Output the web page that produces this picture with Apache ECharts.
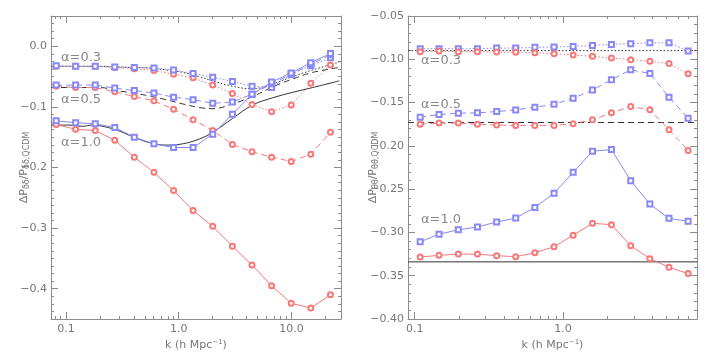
<!DOCTYPE html>
<html>
<head>
<meta charset="utf-8">
<script src="https://cdn.jsdelivr.net/npm/echarts@6/dist/echarts.min.js"></script>
<style>
  html, body { margin: 0; padding: 0; background: #fff; }
  #chart { width: 713px; height: 356px; }
</style>
</head>
<body>
<div id="chart"></div>
<script>
// ---- left panel: delta-delta ----
const kLeft = [0.082, 0.122, 0.182, 0.271, 0.404, 0.603, 0.900, 1.34, 2.00, 2.99, 4.46, 6.65, 9.92, 14.8, 22.1]
const redDotL = [-0.033, -0.033, -0.033, -0.035, -0.037, -0.040, -0.046, -0.052, -0.064, -0.078, -0.096, -0.108, -0.097, -0.061, -0.031]
const blueDotL = [-0.032, -0.033, -0.033, -0.034, -0.035, -0.036, -0.039, -0.045, -0.051, -0.058, -0.066, -0.068, -0.046, -0.032, -0.019]
const redDashL = [-0.066, -0.068, -0.068, -0.075, -0.083, -0.090, -0.104, -0.121, -0.139, -0.162, -0.174, -0.183, -0.190, -0.178, -0.142]
const blueDashL = [-0.064, -0.064, -0.064, -0.069, -0.073, -0.077, -0.084, -0.088, -0.094, -0.092, -0.079, -0.062, -0.046, -0.030, -0.014]
const redSolidL = [-0.129, -0.137, -0.139, -0.155, -0.183, -0.208, -0.238, -0.271, -0.297, -0.330, -0.361, -0.395, -0.424, -0.432, -0.410]
const blueSolidL = [-0.123, -0.126, -0.128, -0.134, -0.150, -0.161, -0.167, -0.167, -0.145, -0.112, -0.079, -0.059, -0.044, -0.027, -0.012]

// smooth reference curves (black)
const kCurve = [0.074, 0.107, 0.14, 0.172, 0.2, 0.28, 0.39, 0.55, 0.77, 1.08, 1.52, 2.0, 3.0, 4.5, 6.8, 10.2, 15.4, 26.5]
const curve03 = [-0.033, -0.033, -0.033, -0.033, -0.033, -0.034, -0.035, -0.036, -0.039, -0.043, -0.050, -0.057, -0.066, -0.070, -0.062, -0.050, -0.039, -0.026]
const curve05 = [-0.068, -0.068, -0.068, -0.068, -0.068, -0.073, -0.077, -0.082, -0.088, -0.095, -0.101, -0.103, -0.095, -0.083, -0.067, -0.054, -0.043, -0.035]
const curve10 = [-0.130, -0.130, -0.132, -0.130, -0.131, -0.138, -0.149, -0.159, -0.163, -0.161, -0.153, -0.142, -0.119, -0.097, -0.085, -0.076, -0.068, -0.057]

// ---- right panel: theta-theta ----
const kRight = [0.109, 0.146, 0.197, 0.265, 0.357, 0.480, 0.646, 0.870, 1.17, 1.58, 2.12, 2.86, 3.85, 5.18, 6.97]
const blueDotR = [-0.0878, -0.0878, -0.0878, -0.0878, -0.0870, -0.0870, -0.0862, -0.0858, -0.0851, -0.0840, -0.0828, -0.0820, -0.0809, -0.0809, -0.0905]
const redDotR = [-0.0912, -0.0905, -0.0912, -0.0912, -0.0916, -0.0920, -0.0924, -0.0935, -0.0950, -0.0966, -0.0985, -0.1004, -0.1023, -0.1050, -0.1168]
const blueDashR = [-0.1669, -0.1638, -0.1623, -0.1619, -0.1604, -0.1585, -0.1554, -0.1520, -0.1451, -0.1355, -0.1237, -0.1122, -0.1164, -0.1439, -0.1680]
const redDashR = [-0.1749, -0.1737, -0.1737, -0.1749, -0.1760, -0.1764, -0.1764, -0.1764, -0.1745, -0.1699, -0.1619, -0.1546, -0.1584, -0.1814, -0.2054]
const blueSolidR = [-0.3109, -0.3020, -0.2970, -0.2937, -0.2880, -0.2834, -0.2711, -0.2547, -0.2306, -0.2062, -0.2043, -0.2402, -0.2673, -0.2837, -0.2872]
const redSolidR = [-0.3284, -0.3265, -0.3250, -0.3250, -0.3269, -0.3280, -0.3235, -0.3166, -0.3032, -0.2895, -0.2910, -0.3154, -0.3303, -0.3403, -0.3475]
const flatR = [-0.090, -0.173, -0.334]   // dotted, dashed, solid

// axis ranges / ticks
const xRangeL = [0.0738, 27.4]
const xRangeR = [0.0902, 8.0]
const yRangeL = [-0.45, 0.05]
const yRangeR = [-0.40, -0.05]
const xMajor = [0.1, 1, 10]
const xMinor = [0.08, 0.09, 0.2, 0.3, 0.4, 0.5, 0.6, 0.7, 0.8, 0.9, 2, 3, 4, 5, 6, 7, 8, 9, 20]
const yMajorL = [-0.4, -0.3, -0.2, -0.1, 0.0]
const yMajorR = [-0.40, -0.35, -0.30, -0.25, -0.20, -0.15, -0.10, -0.05]

const RED = '#f87878'
const BLUE = '#8888f6'
const DARK = '#333'
const AXIS = '#8c8c8c'
const TEXT = '#777'
const FONT = 'DejaVu Sans'

const lg = v => Math.log10(v)
const pairs = (k, v) => k.map((x, i) => [lg(x), v[i]])

function within(vals, lo, hi) {
  return vals.filter(v => v >= lo - 1e-9 && v <= hi + 1e-9)
}

const frameLine = { show: true, onZero: false, lineStyle: { color: AXIS, width: 1 } }
const noLine = { show: false, onZero: false }

function xAxes(grid, range) {
  const lo = lg(range[0]), hi = lg(range[1])
  const major = within(xMajor.map(lg), lo, hi)
  const minor = within(xMinor.map(lg), lo, hi)
  const base = {
    gridIndex: grid, type: 'value', min: lo, max: hi,
    splitLine: { show: false }
  }
  const majTick = { show: true, inside: true, length: 7, customValues: major, lineStyle: { color: AXIS } }
  const minTick = { show: true, inside: true, length: 3, customValues: minor, lineStyle: { color: AXIS } }
  return [
    Object.assign({}, base, {
      position: 'bottom',
      axisLine: frameLine,
      axisTick: majTick,
      axisLabel: {
        show: true, customValues: major, margin: 5, color: TEXT, fontSize: 11, fontFamily: FONT,
        formatter: v => ({ '-1': '0.1', '0': '1.0', '1': '10.0' })[Math.round(v)]
      },
      name: 'k (h Mpc{sup|\u22121})', nameLocation: 'middle', nameGap: 20, nameMoveOverlap: false,
      nameTextStyle: {
        color: TEXT, fontSize: 11, fontFamily: FONT,
        rich: { sup: { fontSize: 7, verticalAlign: 'top', color: TEXT, fontFamily: FONT, padding: [0, 0, 6, 0] } }
      }
    }),
    Object.assign({}, base, { position: 'bottom', axisLine: noLine, axisTick: minTick, axisLabel: { show: false } }),
    Object.assign({}, base, { position: 'top', axisLine: frameLine, axisTick: majTick, axisLabel: { show: false } }),
    Object.assign({}, base, { position: 'top', axisLine: noLine, axisTick: minTick, axisLabel: { show: false } })
  ]
}

function yAxes(grid, range, major, step, digits, title, gap) {
  const minor = []
  for (let v = range[0]; v <= range[1] + 1e-9; v += step) minor.push(+v.toFixed(5))
  const base = {
    gridIndex: grid, type: 'value', min: range[0], max: range[1],
    splitLine: { show: false }
  }
  const majTick = { show: true, inside: true, length: 7, customValues: major, lineStyle: { color: AXIS } }
  const minTick = { show: true, inside: true, length: 3, customValues: minor, lineStyle: { color: AXIS } }
  return [
    Object.assign({}, base, {
      position: 'left',
      axisLine: frameLine,
      axisTick: majTick,
      axisLabel: {
        show: true, customValues: major, margin: 4, color: TEXT, fontSize: 11, fontFamily: FONT,
        formatter: v => v.toFixed(digits).replace('-', '\u2212')
      },
      name: title, nameLocation: 'middle', nameGap: gap, nameRotate: 90, nameMoveOverlap: false,
      nameTextStyle: {
        color: TEXT, fontSize: 11, fontFamily: FONT,
        rich: { sub: { fontSize: 8, color: TEXT, fontFamily: FONT, verticalAlign: 'bottom', padding: [5, 0, 0, 0] } }
      }
    }),
    Object.assign({}, base, { position: 'left', axisLine: noLine, axisTick: minTick, axisLabel: { show: false } }),
    Object.assign({}, base, { position: 'right', axisLine: frameLine, axisTick: majTick, axisLabel: { show: false } }),
    Object.assign({}, base, { position: 'right', axisLine: noLine, axisTick: minTick, axisLabel: { show: false } })
  ]
}

function marked(data, color, dash, symbol, xi, yi) {
  return {
    type: 'line', xAxisIndex: xi, yAxisIndex: yi, data: data,
    symbol: symbol, symbolSize: 5, showSymbol: true,
    itemStyle: { color: color, borderColor: color, borderWidth: 0.9 },
    lineStyle: { color: color, width: 1, type: dash },
    emphasis: { disabled: true }, silent: true, z: 3
  }
}

function curve(data, dash, xi, yi, smooth) {
  return {
    type: 'line', xAxisIndex: xi, yAxisIndex: yi, data: data,
    symbol: 'none', smooth: smooth,
    lineStyle: { color: DARK, width: 1, type: dash },
    emphasis: { disabled: true }, silent: true, z: 2
  }
}

const DOT = [1.5, 2]
const DASH = [6, 4]

const series = [
  curve(pairs(kCurve, curve03), DOT, 0, 0, 0.4),
  curve(pairs(kCurve, curve05), DASH, 0, 0, 0.4),
  curve(pairs(kCurve, curve10), 'solid', 0, 0, 0.4),
  marked(pairs(kLeft, redDotL), RED, DOT, 'emptyCircle', 0, 0),
  marked(pairs(kLeft, blueDotL), BLUE, DOT, 'emptyRect', 0, 0),
  marked(pairs(kLeft, redDashL), RED, DASH, 'emptyCircle', 0, 0),
  marked(pairs(kLeft, blueDashL), BLUE, DASH, 'emptyRect', 0, 0),
  marked(pairs(kLeft, redSolidL), RED, 'solid', 'emptyCircle', 0, 0),
  marked(pairs(kLeft, blueSolidL), BLUE, 'solid', 'emptyRect', 0, 0),

  curve(xRangeR.map(k => [lg(k), flatR[0]]), DOT, 4, 4, false),
  curve(xRangeR.map(k => [lg(k), flatR[1]]), DASH, 4, 4, false),
  curve(xRangeR.map(k => [lg(k), flatR[2]]), 'solid', 4, 4, false),
  marked(pairs(kRight, blueDotR), BLUE, DOT, 'emptyRect', 4, 4),
  marked(pairs(kRight, redDotR), RED, DOT, 'emptyCircle', 4, 4),
  marked(pairs(kRight, blueDashR), BLUE, DASH, 'emptyRect', 4, 4),
  marked(pairs(kRight, redDashR), RED, DASH, 'emptyCircle', 4, 4),
  marked(pairs(kRight, blueSolidR), BLUE, 'solid', 'emptyRect', 4, 4),
  marked(pairs(kRight, redSolidR), RED, 'solid', 'emptyCircle', 4, 4)
]

function tag(x, y, txt) {
  return {
    type: 'text', left: x, top: y, silent: true,
    style: { text: txt, fill: '#888', fontSize: 13, fontFamily: FONT }
  }
}

const chart = echarts.init(document.getElementById('chart'), null, { renderer: 'canvas' })
chart.setOption({
  animation: false,
  backgroundColor: '#fff',
  grid: [
    { left: 51, right: 372, top: 16, bottom: 33 },
    { left: 408, right: 16, top: 16, bottom: 33 }
  ],
  xAxis: xAxes(0, xRangeL).concat(xAxes(1, xRangeR)),
  yAxis: yAxes(0, yRangeL, yMajorL, 0.0125, 1, '\u0394P{sub|\u03b4\u03b4}/P{sub|\u03b4\u03b4,QCDM}', 20)
    .concat(yAxes(1, yRangeR, yMajorR, 0.01, 2, '\u0394P{sub|\u03b8\u03b8}/P{sub|\u03b8\u03b8,QCDM}', 28)),
  series: series,
  graphic: [
    tag(61, 51, '\u03b1=0.3'),
    tag(61, 93, '\u03b1=0.5'),
    tag(61, 136, '\u03b1=1.0'),
    tag(421, 54, '\u03b1=0.3'),
    tag(421, 98, '\u03b1=0.5'),
    tag(421, 213, '\u03b1=1.0')
  ]
})
</script>
</body>
</html>
